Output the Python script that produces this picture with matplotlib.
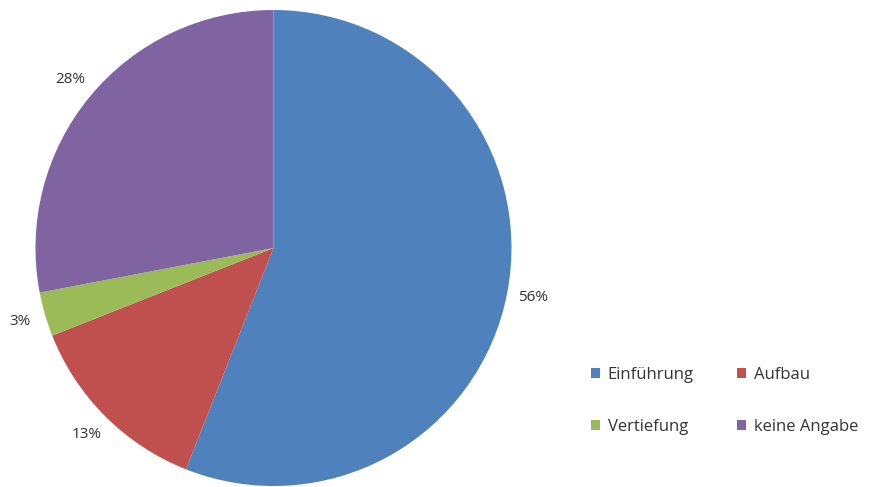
import matplotlib.pyplot as plt
from matplotlib.patches import Patch

plt.rcParams['font.family'] = ['Open Sans', 'DejaVu Sans']

labels = ['Einführung', 'Aufbau', 'Vertiefung', 'keine Angabe']
values = [56, 13, 3, 28]
colors = ['#4F81BD', '#C0504D', '#9BBB59', '#8064A2']

fig = plt.figure(figsize=(8.69, 4.87), dpi=100)
# pie occupies x 35..512 px, y 10..486 px
ax = fig.add_axes([35 / 869, 1 / 487, 477 / 869, 476 / 487])
ax.pie(values, colors=colors, startangle=90, counterclock=False,
       autopct='%1.0f%%', pctdistance=1.11, radius=1,
       textprops={'fontsize': 11, 'color': '#333333'})
ax.set_aspect('equal')
ax.set_xlim(-1, 1)
ax.set_ylim(-1, 1)

# legend is filled column by column, so reorder to get rows like the original
order = [0, 2, 1, 3]
handles = [Patch(facecolor=colors[i], edgecolor='none') for i in order]
fig.legend(handles, [labels[i] for i in order], loc='upper left',
           bbox_to_anchor=(576 / 869, 1 - 352 / 487),
           ncol=2, frameon=False, fontsize=12, handlelength=0.55, handleheight=0.55,
           handletextpad=0.45, labelspacing=2.15, columnspacing=2.6, labelcolor='#333333')

fig.savefig('out.png', dpi=100)
